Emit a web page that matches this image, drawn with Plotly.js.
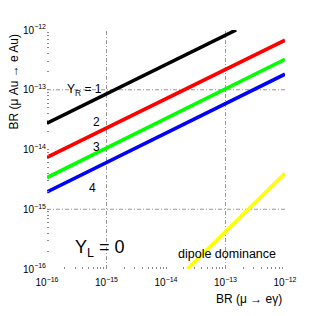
<!DOCTYPE html>
<html>
<head>
<meta charset="utf-8">
<script src="https://cdn.plot.ly/plotly-3.0.1.min.js"></script>
<style>html,body{margin:0;padding:0;background:#fff;}#chart{width:316px;height:316px;}</style>
</head>
<body>
<div id="chart"></div>
<script>
// BR(mu -> e gamma) endpoints of each line
var xLeft = 1e-16;
var xRight = 1e-12;
// Y_R lines: BR(mu Au -> e Au) at left/right ends
var yr1X = [1e-16, 1.51e-13];
var yr1Y = [2.75e-14, 1e-12];
var yr2Y = [7.4e-15, 6.76e-13];
var yr3Y = [3.39e-15, 3.24e-13];
var yr4Y = [1.95e-15, 1.82e-13];
// dipole dominance line
var dipX = [2.29e-14, 1e-12];
var dipY = [1e-16, 3.98e-15];
// reference grid decades
var gridX = [1e-15, 1e-13];
var gridY = [1e-15, 1e-13];
var seriesColors = ['#000000', '#ff0000', '#00ff00', '#0000ff', '#ffff00'];

var traces = [
  {x: yr1X, y: yr1Y},
  {x: [xLeft, xRight], y: yr2Y},
  {x: [xLeft, xRight], y: yr3Y},
  {x: [xLeft, xRight], y: yr4Y},
  {x: dipX, y: dipY}
].map(function(t, i) {
  return {x: t.x, y: t.y, type: 'scatter', mode: 'lines',
          line: {color: seriesColors[i], width: 3.6}, hoverinfo: 'skip', showlegend: false};
});

var gridLine = {color: '#999999', width: 1, dash: '4px,2px,1px,2px'};
var shapes = [];
gridX.forEach(function(v) {
  shapes.push({type: 'line', xref: 'x', yref: 'paper', x0: v, x1: v, y0: 0, y1: 1, layer: 'below', line: gridLine});
});
gridY.forEach(function(v) {
  shapes.push({type: 'line', xref: 'paper', yref: 'y', x0: 0, x1: 1, y0: v, y1: v, layer: 'below', line: gridLine});
});

var font = 'Liberation Sans, Arial, Helvetica, sans-serif';
function axis() {
  return {
    type: 'log', range: [-16, -12], dtick: 1, exponentformat: 'power',
    showgrid: false, zeroline: false, showline: false,
    ticks: 'inside', ticklen: 2, tickwidth: 1, tickcolor: '#888',
    minor: {ticks: 'inside', ticklen: 2, tickwidth: 1, tickcolor: '#888', dtick: 'D1', showgrid: false},
    tickfont: {family: font, size: 8, color: '#000'},
    fixedrange: true
  };
}
var xa = axis(); xa.ticklabelstandoff = 6;
var ya = axis(); ya.ticklabelstandoff = 0;

var annFont = function(s) { return {family: font, size: s, color: '#000'}; };
var annotations = [
  {text: 'Y<sub>R</sub> = 1', x: -15.70, y: -13.0, xanchor: 'left', yanchor: 'middle', font: annFont(12)},
  {text: '2', x: -15.176, y: -13.548, xanchor: 'center', yanchor: 'middle', font: annFont(12)},
  {text: '3', x: -15.176, y: -13.95, xanchor: 'center', yanchor: 'middle', font: annFont(12)},
  {text: '4', x: -15.235, y: -14.636, xanchor: 'center', yanchor: 'middle', font: annFont(12)},
  {text: 'Y<sub>L</sub> = 0', x: -15.56, y: -15.65, xanchor: 'left', yanchor: 'middle', font: annFont(18)},
  {text: 'dipole dominance', x: -12.975, y: -15.749, xanchor: 'center', yanchor: 'middle', font: annFont(12.5)}
].map(function(a) { a.xref = 'x'; a.yref = 'y'; a.showarrow = false; return a; });

annotations.push({text: 'BR (\u03bc \u2192 e\u03b3)', xref: 'paper', yref: 'paper', x: 0.996, y: -0.1255,
  xanchor: 'right', yanchor: 'middle', showarrow: false, font: annFont(12)});
annotations.push({text: 'BR (\u03bc Au \u2192 e Au)', xref: 'paper', yref: 'paper', x: -0.14, y: 0.992,
  xanchor: 'center', yanchor: 'top', textangle: -90, showarrow: false, font: annFont(12)});

var layout = {
  width: 316, height: 316,
  margin: {l: 47, r: 31, t: 30, b: 47},
  paper_bgcolor: '#fff', plot_bgcolor: '#fff',
  xaxis: xa, yaxis: ya,
  shapes: shapes, annotations: annotations,
  showlegend: false
};
Plotly.newPlot('chart', traces, layout, {staticPlot: true, displayModeBar: false});
</script>
</body>
</html>
